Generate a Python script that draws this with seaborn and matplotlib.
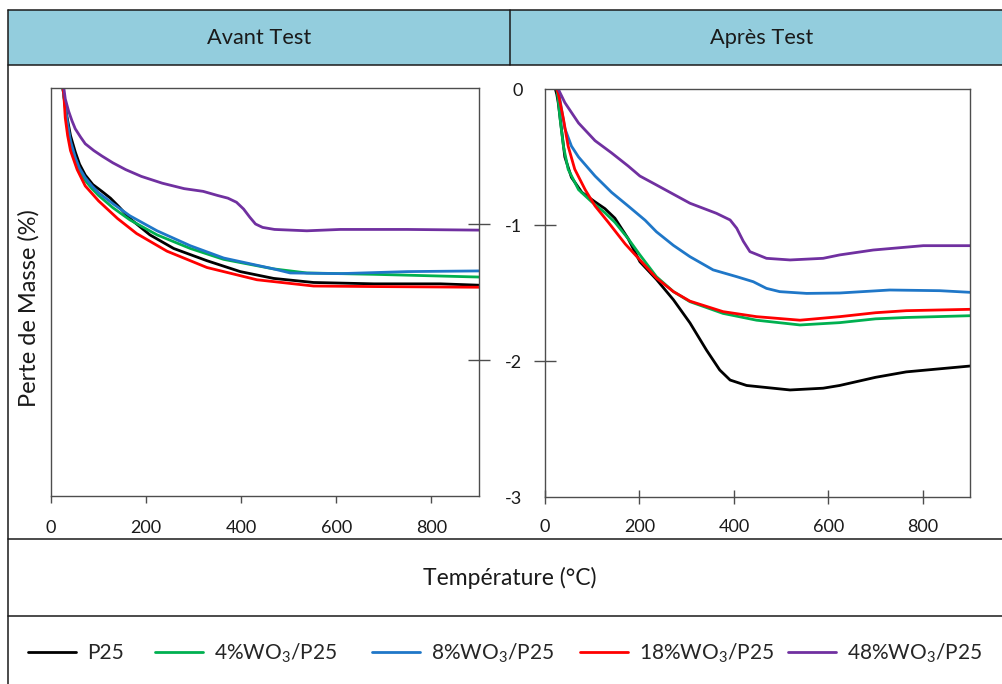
import numpy as np
import pandas as pd
import matplotlib
matplotlib.use("Agg")
import matplotlib.pyplot as plt
from matplotlib.patches import Rectangle
import seaborn as sns

# Series labels and colours
series = ["P25", "4%WO$_\\mathregular{3}$/P25", "8%WO$_\\mathregular{3}$/P25",
          "18%WO$_\\mathregular{3}$/P25", "48%WO$_\\mathregular{3}$/P25"]
colors = ["#000000", "#00B050", "#1F77C8", "#FF0000", "#7030A0"]

# Avant Test (temperature in °C, mass loss in %)
avant_p25_t = [25, 28, 34, 41, 51, 60, 72, 88, 107, 125, 142, 166, 208, 258, 328, 398, 468, 552, 679, 819, 900]
avant_p25_v = [0, -0.08, -0.22, -0.35, -0.47, -0.56, -0.64, -0.71, -0.76, -0.81, -0.87, -0.96, -1.08, -1.18, -1.27, -1.35, -1.40, -1.43, -1.44, -1.44, -1.45]
avant_4_t = [25, 28, 34, 41, 51, 60, 72, 86, 100, 130, 166, 223, 293, 363, 468, 538, 679, 900]
avant_4_v = [0, -0.09, -0.26, -0.41, -0.53, -0.61, -0.68, -0.74, -0.79, -0.88, -0.97, -1.08, -1.18, -1.26, -1.33, -1.36, -1.37, -1.39]
avant_8_t = [25, 28, 34, 41, 51, 60, 72, 86, 100, 130, 166, 223, 293, 363, 468, 503, 608, 749, 900]
avant_8_v = [0, -0.08, -0.24, -0.39, -0.51, -0.59, -0.66, -0.72, -0.77, -0.85, -0.94, -1.05, -1.16, -1.25, -1.33, -1.36, -1.365, -1.35, -1.345]
avant_18_t = [25, 27, 30, 35, 41, 55, 72, 100, 140, 180, 244, 328, 433, 552, 679, 900]
avant_18_v = [0, -0.05, -0.22, -0.35, -0.46, -0.60, -0.72, -0.83, -0.96, -1.07, -1.20, -1.32, -1.41, -1.456, -1.46, -1.465]
avant_48_t = [27, 30, 37, 44, 51, 62, 72, 90, 107, 130, 157, 190, 234, 280, 320, 350, 372, 390,
              405, 418, 430, 445, 470, 538, 608, 749, 900]
avant_48_v = [0, -0.08, -0.17, -0.24, -0.30, -0.36, -0.41, -0.46, -0.50, -0.55, -0.60, -0.65, -0.70, -0.74, -0.76, -0.79, -0.81, -0.84,
              -0.89, -0.95, -1.0, -1.025, -1.04, -1.05, -1.04, -1.04, -1.045]

# Après Test
apres_p25_t = [22, 25, 28, 35, 42, 56, 78, 106, 127, 148, 176, 201, 236, 272, 307, 342, 370, 392,
               427, 519, 589, 624, 700, 765, 900]
apres_p25_v = [0, -0.04, -0.10, -0.30, -0.50, -0.65, -0.76, -0.83, -0.88, -0.95, -1.10, -1.27, -1.40, -1.55, -1.72, -1.92, -2.066, -2.14,
               -2.18, -2.213, -2.20, -2.18, -2.12, -2.08, -2.037]
apres_4_t = [25, 28, 32, 39, 49, 71, 99, 127, 148, 176, 201, 236, 272, 307, 377, 448, 540, 624, 700, 765, 900]
apres_4_v = [0, -0.08, -0.22, -0.42, -0.59, -0.74, -0.83, -0.91, -0.98, -1.10, -1.22, -1.38, -1.49, -1.564, -1.65, -1.70, -1.735, -1.718, -1.69, -1.68, -1.667]
apres_8_t = [28, 35, 42, 56, 71, 106, 141, 176, 212, 236, 272, 307, 356, 406, 441, 469, 497, 554, 624, 730, 836, 900]
apres_8_v = [0, -0.15, -0.29, -0.42, -0.50, -0.64, -0.76, -0.86, -0.965, -1.05, -1.15, -1.233, -1.33, -1.38, -1.417, -1.466, -1.49, -1.503, -1.50, -1.478, -1.483, -1.495]
apres_18_t = [25, 28, 39, 49, 63, 85, 106, 134, 170, 201, 236, 272, 307, 377, 448, 540, 624, 700, 765, 900]
apres_18_v = [0, -0.03, -0.22, -0.42, -0.59, -0.74, -0.86, -0.98, -1.14, -1.257, -1.39, -1.49, -1.56, -1.637, -1.674, -1.70, -1.674, -1.645, -1.63, -1.62]
apres_48_t = [28, 42, 71, 106, 141, 176, 201, 233, 270, 307, 363, 392, 406, 420, 434, 469, 519, 589, 624, 695, 801, 900]
apres_48_v = [0, -0.10, -0.25, -0.38, -0.47, -0.566, -0.64, -0.70, -0.77, -0.84, -0.914, -0.963, -1.024, -1.12, -1.196, -1.245, -1.257, -1.245, -1.22, -1.184, -1.152, -1.152]

x_ticks = [0, 200, 400, 600, 800]
y_ticks = [0, -1, -2, -3]

avant = [(avant_p25_t, avant_p25_v), (avant_4_t, avant_4_v), (avant_8_t, avant_8_v),
         (avant_18_t, avant_18_v), (avant_48_t, avant_48_v)]
apres = [(apres_p25_t, apres_p25_v), (apres_4_t, apres_4_v), (apres_8_t, apres_8_v),
         (apres_18_t, apres_18_v), (apres_48_t, apres_48_v)]

rows = []
for panel, data in [("avant", avant), ("apres", apres)]:
    for name, (t, v) in zip(series, data):
        for ti, vi in zip(t, v):
            rows.append({"panel": panel, "serie": name, "T": ti, "v": vi})
df = pd.DataFrame(rows)

sns.set_theme(style="white")
plt.rcParams["font.family"] = ["Lato", "DejaVu Sans"]
plt.rcParams["mathtext.fontset"] = "custom"
plt.rcParams["mathtext.rm"] = "Lato"
plt.rcParams["axes.unicode_minus"] = False

W, H = 1003, 684
fig = plt.figure(figsize=(W / 100, H / 100), dpi=100)

# Table frame in pixel coordinates
bg = fig.add_axes([0, 0, 1, 1], zorder=-1)
bg.set_xlim(0, W)
bg.set_ylim(H, 0)
bg.axis("off")
bg.add_patch(Rectangle((8, 10), W, 55, facecolor="#93CDDD", edgecolor="none"))
lk = dict(color="#1a1a1a", lw=1.1)
bg.plot([8, W], [10, 10], **lk)
bg.plot([8, W], [65, 65], **lk)
bg.plot([8, W], [539, 539], **lk)
bg.plot([8, W], [616, 616], **lk)
bg.plot([8, 8], [10, H], **lk)
bg.plot([510, 510], [10, 65], **lk)
bg.text(259, 38, "Avant Test", ha="center", va="center", fontsize=15.7, color="#1a1a1a")
bg.text(762, 38, "Après Test", ha="center", va="center", fontsize=15.7, color="#1a1a1a")
bg.text(510, 578, "Température (°C)", ha="center", va="center", fontsize=16.5, color="#1a1a1a")
bg.text(29, 308, "Perte de Masse (%)", ha="center", va="center", rotation=90,
        fontsize=17, color="#1a1a1a")

ax1 = fig.add_axes([51 / W, 1 - 496 / H, 428 / W, 408 / H])
ax2 = fig.add_axes([545 / W, 1 - 497 / H, 425 / W, 408 / H])

pal = dict(zip(series, colors))
for ax, panel in [(ax1, "avant"), (ax2, "apres")]:
    sns.lineplot(data=df[df.panel == panel], x="T", y="v", hue="serie",
                 hue_order=series, palette=pal, estimator=None, lw=2.0,
                 ax=ax, legend=False)
    for ln in ax.get_lines():
        ln.set_solid_joinstyle("round")
    ax.set_xlim(0, 900)
    ax.set_ylim(-3, 0)
    ax.set_xlabel("")
    ax.set_ylabel("")
    ax.set_xticks(x_ticks)
    for s in ax.spines.values():
        s.set_color("#4d4d4d")
        s.set_linewidth(1.0)
    ax.tick_params(axis="both", colors="#4d4d4d", labelcolor="#1a1a1a",
                   labelsize=13, width=1.0)

# left panel: ticks on the right side, no labels
ax1.set_yticks([-1, -2])
ax1.tick_params(axis="y", left=False, right=True, labelleft=False,
                direction="inout", length=16.5)
ax1.tick_params(axis="x", bottom=True, direction="out", length=5, pad=12)

# right panel
ax2.set_yticks(y_ticks)
ax2.tick_params(axis="y", left=True, direction="inout", length=16.5, pad=8)
ax2.tick_params(axis="x", bottom=True, direction="inout", length=9.5, pad=11)
yt = ax2.yaxis.get_major_ticks()
yt[0].tick1line.set_visible(False)
yt[-1].tick1line.set_visible(False)

# legend entries placed along the bottom row
legend_x = [28, 155, 372, 580, 788]
handles = ax2.get_lines()[:len(series)]
for h, lab, lx in zip(handles, series, legend_x):
    fig.legend([h], [lab], loc="center left", bbox_to_anchor=(lx / W, 1 - 653 / H),
               frameon=False, fontsize=15, handlelength=2.3, handletextpad=0.55,
               borderpad=0, borderaxespad=0)

fig.savefig("out.png", dpi=100)
